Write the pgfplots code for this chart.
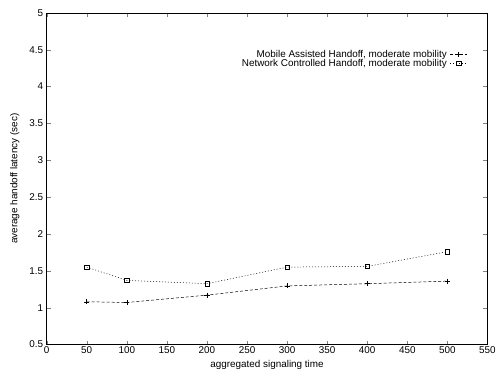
\documentclass[border=0pt]{standalone}
\usepackage{fontspec}
\setmainfont{Liberation Sans}
\usepackage{pgfplots}
\pgfplotsset{compat=1.18}
\begin{document}
\begin{tikzpicture}[font=\fontsize{10pt}{11pt}\selectfont]
\begin{axis}[
  at={(0,0)}, anchor=south west,
  scale only axis,
  width=444bp, height=334bp,
  xmin=0, xmax=550, ymin=0.5, ymax=5,
  xtick={0,50,...,550},
  ytick={0.5,1,...,5},
  tick align=inside,
  major tick length=4bp,
  axis line style={line width=0.6pt},
  /pgf/number format/assume math mode=true,
  xticklabel style={yshift=1bp},
  xlabel={aggregated signaling time},
  ylabel={average handoff latency (sec)},
  xlabel style={at={(axis description cs:0.5,-0.061)}, anchor=center},
  ylabel style={at={(axis description cs:-0.072,0.5)}, anchor=center},
  legend plot pos=right,
  legend cell align=right,
  legend style={draw=none, fill=none, at={(1,1)}, anchor=north east,
    xshift=-17bp, yshift=-35bp,
    nodes={inner sep=0.3bp},
    column sep=3bp,
    row sep=-0.5bp, font=\fontsize{10pt}{11pt}\selectfont},
]
\addplot[black, dash pattern=on 3bp off 2bp, line width=0.5pt, mark=+, mark size=2.6pt, mark options={solid}]
 coordinates {(50,1.08) (100,1.07) (200,1.17) (300,1.295) (400,1.325) (500,1.36)};
\addlegendentry{Mobile Assisted Handoff, moderate mobility}
\addplot[black, dash pattern=on 1bp off 2bp, line width=0.5pt, mark=square, mark size=2.2pt, mark options={solid}]
 coordinates {(50,1.55) (100,1.37) (200,1.325) (300,1.55) (400,1.56) (500,1.76)};
\addlegendentry{Network Controlled Handoff, moderate mobility}
\end{axis}
\path[use as bounding box] (-47bp,-28bp) rectangle (452bp,347bp);
\end{tikzpicture}
\end{document}
